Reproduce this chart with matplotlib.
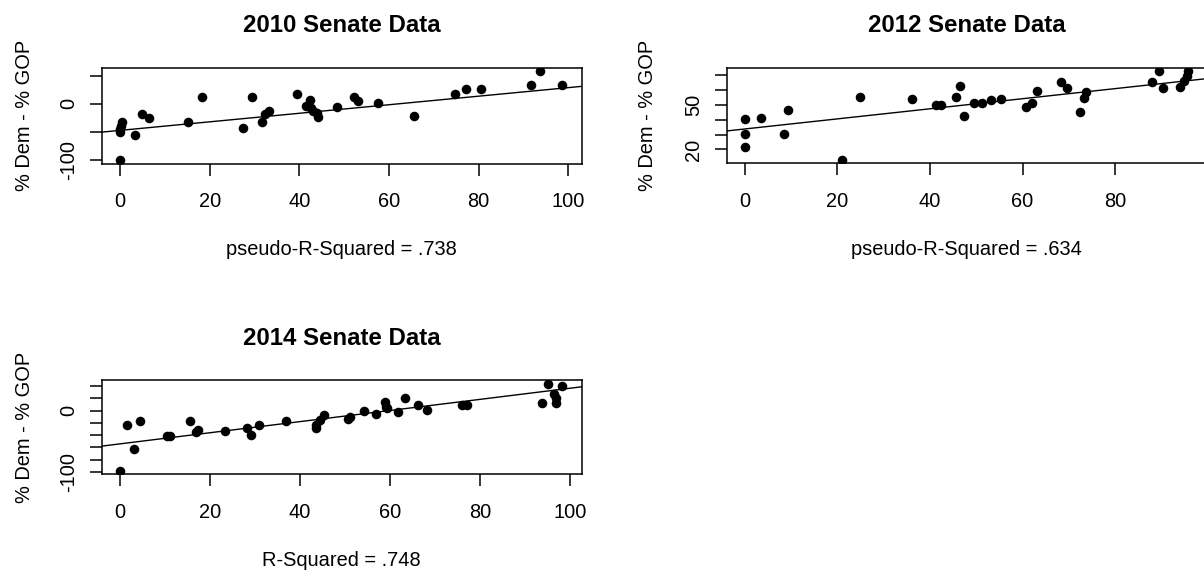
import matplotlib
matplotlib.use('Agg')
import matplotlib.pyplot as plt

plt.rcParams['font.family'] = ['Liberation Sans', 'DejaVu Sans']

# 2010 Senate data
x2010 = [0, 0, 0, 0.2, 0.5, 3.3, 5, 6.5, 15.2, 18.4, 27.4, 29.5, 31.6, 32.3, 33.2,
         39.4, 41.5, 42.3, 42.6, 43, 43.9, 44.1, 48.5, 52.3, 53.2, 57.6, 65.6,
         74.7, 77.1, 80.5, 91.7, 93.7, 98.7]
y2010 = [-100, -50, -45, -40, -32, -56, -18, -25, -32, 12, -42, 12, -32, -18, -12,
         17.6, -3, 6, -7, -12, -17, -24, -6, 11.6, 5, 1, -22.4,
         17.6, 26.4, 26.4, 34, 57.5, 34]
fit2010 = (-47.0, 0.757)

# 2012 Senate data
x2012 = [0, 0, 0, 3.6, 8.5, 9.4, 21, 25, 36.1, 41.3, 42.5, 45.7, 46.6, 47.4, 49.5,
         51.3, 53.1, 55.4, 60.7, 62.1, 63.1, 68.3, 69.5, 72.4, 73.2, 73.7,
         88, 89.5, 90.3, 93.9, 94.8, 95.4, 95.7]
y2012 = [40.4, 30.3, 21.6, 41.5, 30.3, 46.4, 12.8, 55.2, 54, 50, 50, 55.2, 62.6, 42.8, 51.5,
         51.5, 53.4, 54, 48.9, 51.1, 59.4, 65.7, 61.6, 45.1, 54.9, 58.9,
         65.7, 72.9, 61.2, 62.3, 66.1, 69.7, 72.9]
fit2012 = (33.8, 0.341)

# 2014 Senate data
x2014 = [0, 1.6, 3.2, 4.5, 10.6, 11.1, 15.6, 17.0, 17.3, 23.4, 28.3, 29.1, 30.9, 37.0,
         43.5, 43.6, 44.4, 45.3, 50.7, 51.2, 54.2, 56.8, 58.8, 59.0, 59.3, 61.8,
         63.3, 66.2, 68.2, 76.0, 77.1, 93.8, 95.0, 96.3, 96.7, 96.8, 98.1]
y2014 = [-99, -24, -63, -17, -41, -41, -17, -35, -32, -33, -29, -40, -23, -17,
         -29, -24, -16, -7, -13, -10, -1, -6, 14, 6, 4, -2,
         20, 10, 1, 10, 10, 13, 44, 28, 21, 13, 40]
fit2014 = (-54.5, 0.912)

W, H = 1204, 578
fig = plt.figure(figsize=(W / 100, H / 100), dpi=100)


def box(l, t, r, b):
    return [l / W, 1 - b / H, (r - l) / W, (b - t) / H]


def panel(rect, x, y, fit, xlim, ylim, xticks, yticks, ylabels, title, note,
          title_y, note_y, ylab_x):
    ax = fig.add_axes(box(*rect))
    ax.plot(x, y, 'o', color='black', ms=6.9, mew=0)
    a, b = fit
    ax.plot(xlim, [a + b * xlim[0], a + b * xlim[1]], color='black', lw=1.0)
    ax.set_xlim(xlim)
    ax.set_ylim(ylim)
    ax.set_xticks(xticks)
    ax.set_xticklabels([str(v) for v in xticks])
    ax.set_yticks(yticks)
    ax.set_yticklabels(ylabels, rotation=90, va='center')
    for s in ax.spines.values():
        s.set_linewidth(1.1)
    ax.tick_params(length=8.6, width=1.1, labelsize=14.4)
    ax.tick_params(axis='x', pad=12)
    ax.tick_params(axis='y', pad=8.4)
    cx = (rect[0] + rect[2]) / 2
    cy = (rect[1] + rect[3]) / 2
    fig.text(cx / W, 1 - title_y / H, title, ha='center', va='baseline',
             fontsize=17.3, fontweight='bold')
    fig.text(cx / W, 1 - note_y / H, note, ha='center', va='baseline', fontsize=14.4)
    fig.text(ylab_x / W, 1 - cy / H, '% Dem - % GOP', rotation=90,
             ha='center', va='center', fontsize=14.4)
    return ax


panel((101.7, 67.7, 581.7, 163.7), x2010, y2010, fit2010, (-4.08, 103), (-106, 64),
      [0, 20, 40, 60, 80, 100], [-100, -50, 0, 50], ['-100', '', '0', ''],
      '2010 Senate Data', 'pseudo-R-Squared = .738', 32, 255, 24.5)

panel((726.7, 67.7, 1207, 163.5), x2012, y2012, fit2012, (-3.85, 99.8), (10.5, 75.2),
      [0, 20, 40, 60, 80], [20, 30, 40, 50, 60, 70], ['20', '', '', '50', '', ''],
      '2012 Senate Data', 'pseudo-R-Squared = .634', 32, 255, 647)

panel((101.7, 380.3, 581.7, 474.3), x2014, y2014, fit2014, (-3.95, 102.5), (-104.2, 49.6),
      [0, 20, 40, 60, 80, 100], [-100, -80, -60, -40, -20, 0, 20, 40],
      ['-100', '', '', '', '', '0', '', ''],
      '2014 Senate Data', 'R-Squared = .748', 345, 566, 24.5)

fig.savefig('out.png', dpi=100)
